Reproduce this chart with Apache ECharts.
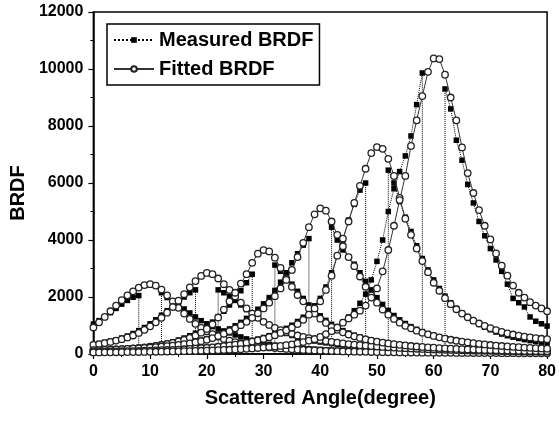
<!DOCTYPE html>
<html>
<head>
<meta charset="utf-8">
<script src="https://cdn.jsdelivr.net/npm/echarts@6/dist/echarts.min.js"></script>
<style>
  html, body { margin: 0; padding: 0; background: #fff; }
  #brdf-chart { width: 559px; height: 423px; }
</style>
</head>
<body>
<div id="brdf-chart"></div>
<script>
// scattered angle (degree)
var angles = [0,1,2,3,4,5,6,7,8,9,10,11,12,13,14,15,16,17,18,19,20,
    21,22,23,24,25,26,27,28,29,30,31,32,33,34,35,36,37,38,39,40,
    41,42,43,44,45,46,47,48,49,50,51,52,53,54,55,56,57,58,59,60,
    61,62,63,64,65,66,67,68,69,70,71,72,73,74,75,76,77,78,79,80];

// fitted BRDF, one curve per incidence
var fit10 = [930,1110,1300,1500,1700,1890,2060,2200,2330,2420,2450,
    2400,2260,2060,1850,1620,1420,1230,1060,920,800,
    700,610,530,470,420,375,338,305,277,252,
    230,211,194,179,166,154,143,134,125,117,
    110,104,98,92,87,83,79,75,71,68,
    65,62,59,57,55,52,50,48,46,45,
    43,42,40,39,37,36,35,34,33,32,
    31,30,29,28,27,27,26,25,24,24];
var fit20 = [320,350,385,425,470,520,580,650,740,850,970,
    1110,1270,1450,1650,1870,2100,2340,2560,2740,2845,
    2800,2650,2450,2250,2020,1800,1600,1420,1270,1130,
    1020,920,840,770,710,650,600,560,520,485,
    455,425,398,372,350,330,311,294,278,263,
    250,237,225,214,204,194,185,177,169,162,
    155,149,143,137,132,127,122,118,114,110,
    106,102,99,96,93,90,87,85,82,80];
var fit30 = [122,130,138,148,158,170,183,198,215,235,258,
    285,315,350,390,440,500,570,650,750,880,
    1040,1280,1560,1850,2150,2470,2800,3200,3520,3645,
    3600,3380,3020,2650,2360,2070,1850,1600,1420,1240,
    1090,950,850,760,685,620,565,515,472,435,
    402,372,345,322,300,281,264,248,234,221,
    209,198,188,179,170,162,155,148,142,136,
    131,126,121,117,113,109,105,102,99,96];
var fit40 = [133,139,146,153,161,170,179,189,200,212,225,
    240,257,275,295,318,345,375,410,450,500,
    560,630,710,800,900,1010,1130,1270,1430,1600,
    1800,2030,2300,2600,2950,3400,3900,4450,4900,5110,
    5030,4650,4180,3780,3400,3080,2720,2360,2060,1800,
    1560,1380,1230,1100,990,900,820,750,690,635,
    585,540,500,465,435,405,380,356,335,315,
    297,280,265,251,238,226,215,205,195,186];
var fit50 = [79,82,85,88,92,96,100,104,109,114,120,
    126,133,140,148,157,167,178,190,203,218,
    235,255,275,300,330,360,395,435,480,530,
    590,660,740,830,930,1050,1200,1380,1600,1850,
    2250,2750,3450,4050,4650,5300,5900,6500,7050,7260,
    7200,6850,6250,5480,4750,4180,3700,3260,2870,2500,
    2220,1960,1750,1570,1420,1290,1170,1070,985,905,
    835,775,725,685,645,610,580,555,535,520];
var fit60 = [55,56,58,60,62,64,66,68,70,73,76,
    79,82,86,90,94,98,103,108,114,120,
    127,134,142,150,160,170,182,195,210,225,
    245,265,285,310,340,380,420,470,520,600,
    700,800,930,1100,1250,1380,1520,1700,1980,2300,
    2900,3650,4500,5400,6250,7300,8200,9050,9900,10370,
    10350,9800,9000,8200,7250,6350,5650,5050,4500,4020,
    3530,3100,2750,2400,2150,1980,1820,1700,1600,1500];

// measured BRDF, null = no reading around the specular direction
var meas10 = [1050,1170,1300,1450,1600,1750,1880,1990,2050,null,null,
    null,2150,1980,1840,1720,1580,1440,1300,1170,1060,
    960,880,810,740,670,600,530,470,420,380,
    340,310,280,255,235,215,200,185,170,160,
    150,140,132,124,117,110,104,98,93,88,
    84,80,76,72,69,66,63,60,58,56,
    54,52,50,48,47,45,44,42,41,40,
    39,38,37,36,35,34,33,32,31,30];
var meas20 = [330,370,410,450,500,560,630,720,820,930,1060,
    1200,1360,1520,1690,1850,2000,2150,2250,null,null,
    null,2250,2150,2020,1880,1720,1560,1410,1270,1140,
    1020,910,810,720,650,590,540,495,455,420,
    390,365,340,318,298,280,264,250,237,225,
    214,204,195,186,178,170,163,157,151,145,
    140,135,130,126,122,118,114,110,107,104,
    101,98,95,92,90,88,85,83,81,79];
var meas30 = [130,138,147,157,168,180,194,210,228,250,275,
    305,340,380,430,490,560,640,730,840,970,
    1120,1300,1500,1720,1960,2220,2500,2800,null,null,
    null,3120,2900,2700,2450,2200,1950,1720,1520,1340,
    1180,1040,920,820,735,660,595,540,490,448,
    410,378,350,325,302,282,264,248,233,220,
    208,197,187,178,169,161,154,147,141,135,
    130,125,120,116,112,108,104,101,98,95];
var meas40 = [140,147,154,162,170,179,189,200,212,225,240,
    256,274,294,316,341,370,402,440,485,540,
    610,690,780,880,990,1110,1250,1400,1570,1760,
    1980,2230,2520,2850,3200,3520,3820,4050,null,null,
    null,4450,4000,3650,3400,3150,2850,2550,2250,1980,
    1740,1530,1350,1200,1070,960,865,785,715,655,
    600,552,510,472,438,408,380,355,333,313,
    295,278,263,249,236,224,213,203,194,185];
var meas50 = [85,88,91,95,99,103,108,113,118,124,130,
    137,145,153,162,172,183,195,208,223,240,
    258,278,300,325,355,390,430,475,525,580,
    645,720,805,900,1010,1140,1290,1470,1690,1950,
    2350,2850,3450,4000,4700,5250,5750,6000,null,null,
    null,6450,6000,5350,4800,4300,3800,3350,2950,2600,
    2300,2030,1800,1600,1430,1280,1150,1040,940,850,
    770,700,640,590,545,505,470,440,415,395];
var meas60 = [50,52,54,56,58,60,62,64,66,68,71,
    74,77,80,84,88,92,97,102,107,113,
    120,127,135,144,154,165,177,190,205,222,
    240,262,287,315,348,385,430,480,540,610,
    700,810,950,1110,1300,1520,1780,2100,2600,3250,
    4000,5000,5800,6400,6950,7650,8750,9860,null,null,
    null,9300,8600,7500,6800,5950,5300,4650,4150,3700,
    3300,2900,2450,1950,1800,1650,1300,1150,1060,980];

var fittedList = [fit10, fit20, fit30, fit40, fit50, fit60];
var measuredList = [meas10, meas20, meas30, meas40, meas50, meas60];

window.onload = function(){
    showChart();
}

// pairs angle with value; gaps drop to zero with a vertical dotted line
function toPoints(vals, dropToZero) {
    var out = [];
    for (var i = 0; i < angles.length; i++) {
        var v = vals[i];
        if (v === null) {
            if (i > 0 && vals[i - 1] !== null && dropToZero) {
                out.push({ value: [angles[i - 1], 0], symbolSize: 0 });
            }
            continue;
        }
        if (i > 0 && vals[i - 1] === null && dropToZero) {
            out.push({ value: [angles[i], 0], symbolSize: 0 });
        }
        out.push([angles[i], v]);
    }
    return out;
}

function showChart() {

    var myChart = echarts.init(document.getElementById('brdf-chart'));
    var font = 'Arial, "Liberation Sans", sans-serif';

    var series = [];
    measuredList.forEach(function(vals){
        series.push({
            name: 'Measured BRDF',
            type: 'line',
            data: toPoints(vals, true),
            symbol: 'rect',
            symbolSize: 5.5,
            showAllSymbol: true,
            itemStyle: { color: '#000' },
            lineStyle: { color: '#000', width: 1, type: 'dotted' },
            z: 2
        });
    });
    fittedList.forEach(function(vals){
        series.push({
            name: 'Fitted BRDF',
            type: 'line',
            data: toPoints(vals, false),
            symbol: 'circle',
            symbolSize: 6.5,
            showAllSymbol: true,
            itemStyle: { color: '#fff', borderColor: '#222', borderWidth: 1.3 },
            lineStyle: { color: '#333', width: 1 },
            z: 3
        });
    });

    var option = {
        animation: false,
        backgroundColor: '#fff',
        grid: {
            left: 92,
            right: 7,
            top: 12,
            bottom: 69,
            show: true,
            borderColor: '#000',
            borderWidth: 1.5,
            backgroundColor: 'transparent'
        },
        legend: {
            data: ['Measured BRDF', 'Fitted BRDF'],
            orient: 'vertical',
            left: 107,
            top: 24,
            padding: [6, 6, 6, 6],
            itemGap: 9,
            itemWidth: 40,
            itemHeight: 7,
            borderColor: '#000',
            borderWidth: 1.5,
            textStyle: {
                color: '#000',
                fontSize: 20,
                fontWeight: 'bold',
                fontFamily: font
            }
        },
        xAxis: {
            type: 'value',
            min: 0,
            max: 80,
            interval: 10,
            name: 'Scattered Angle(degree)',
            nameLocation: 'middle',
            nameGap: 34,
            nameTextStyle: { color: '#000', fontSize: 20, fontWeight: 'bold', fontFamily: font },
            axisLine: { lineStyle: { color: '#000', width: 1.5 } },
            axisTick: { show: true, inside: false, length: 5, lineStyle: { color: '#000', width: 1.2 } },
            minorTick: { show: true, splitNumber: 2, length: 3, lineStyle: { color: '#000', width: 1 } },
            axisLabel: { color: '#000', fontSize: 16, fontWeight: 'bold', fontFamily: font, margin: 10 },
            splitLine: { show: false }
        },
        yAxis: {
            type: 'value',
            min: 0,
            max: 12000,
            interval: 2000,
            name: 'BRDF',
            nameLocation: 'middle',
            nameGap: 64,
            nameTextStyle: { color: '#000', fontSize: 20, fontWeight: 'bold', fontFamily: font, padding: [0, 20, 0, 0] },
            axisLine: { lineStyle: { color: '#000', width: 1.5 } },
            axisTick: { show: true, inside: false, length: 5, lineStyle: { color: '#000', width: 1.2 } },
            minorTick: { show: true, splitNumber: 2, length: 3, lineStyle: { color: '#000', width: 1 } },
            axisLabel: {
                color: '#000', fontSize: 16, fontWeight: 'bold', fontFamily: font, margin: 10,
                formatter: function(v){ return String(v); }
            },
            splitLine: { show: false }
        },
        series: series
    };

    myChart.setOption(option);
}
</script>
</body>
</html>
